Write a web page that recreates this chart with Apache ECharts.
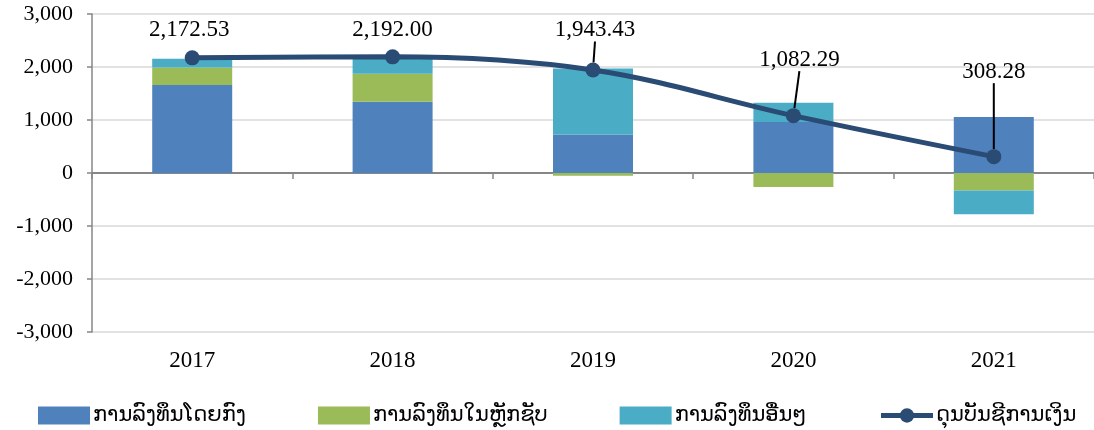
<!DOCTYPE html>
<html>
  <head>
    <meta charset="utf-8" />
    <title>Capital account chart</title>
    <style>
      body { margin: 0; background: #fff; }
    </style>
  </head>
  <body>
    <script src="https://cdn.jsdelivr.net/npm/echarts@6/dist/echarts.min.js"></script>

    <div id="chart" style="width: 1094px; height: 430px"></div>

    <script>
      const years = ['2017', '2018', '2019', '2020', '2021'];
      const direct = [1660, 1345, 725, 960, 1055];
      const portfolio = [330, 530, -50, -265, -330];
      const other = [165, 280, 1245, 366, -450];
      const balance = [2172.53, 2192.0, 1943.43, 1082.29, 308.28];
      const yTicks = [-3000, -2000, -1000, 0, 1000, 2000, 3000];

      const names = [
        'ການລົງທຶນໂດຍກົງ',
        'ການລົງທຶນໃນຫຼັກຊັບ',
        'ການລົງທຶນອື່ນໆ',
        'ດຸນບັນຊີການເງິນ'
      ];

      // label offsets from the point (px)
      const labelDx = [-3, 0, 2, 6, 0];
      const labelDy = [-28, -27, -40, -56, -85];
      const leader = [false, false, true, true, true];

      const serif = "'Liberation Serif', 'Times New Roman', serif";
      const lao = "'DejaVu Sans', 'Noto Sans', sans-serif";
      const navy = '#2a4b74';

      function fmt(v, d) {
        return v.toLocaleString('en-US', {
          minimumFractionDigits: d,
          maximumFractionDigits: d
        });
      }

      let myChart = echarts.init(document.getElementById('chart'), null, {
        width: 1094,
        height: 430
      });

      function barSeries(name, values, color) {
        return {
          name: name,
          type: 'bar',
          stack: 'total',
          barWidth: 80,
          xAxisIndex: 0,
          itemStyle: { color: color },
          data: values
        };
      }

      let opts = {
        animation: false,
        grid: {
          left: 92,
          top: 14,
          right: -5,
          height: 318
        },
        legend: {
          left: 33,
          top: 400,
          itemWidth: 52,
          itemHeight: 18,
          itemGap: 72,
          textStyle: {
            fontFamily: lao,
            fontSize: 21,
            color: '#000',
            padding: [0, 0, 0, -2]
          },
          data: [
            { name: names[0], icon: 'rect' },
            { name: names[1], icon: 'rect' },
            { name: names[2], icon: 'rect' },
            {
              name: names[3],
              itemStyle: { color: navy },
              lineStyle: { width: 5, color: navy }
            }
          ]
        },
        xAxis: [
          {
            type: 'category',
            data: years,
            axisLine: {
              onZero: true,
              lineStyle: { color: '#868686', width: 2 }
            },
            axisTick: {
              show: true,
              length: 6,
              lineStyle: { color: '#868686', width: 1.5 }
            },
            axisLabel: { show: false }
          },
          {
            type: 'category',
            data: years,
            position: 'bottom',
            axisLine: { show: false, onZero: false },
            axisTick: { show: false },
            axisLabel: {
              margin: 17,
              fontFamily: serif,
              fontSize: 23,
              color: '#000'
            }
          }
        ],
        yAxis: {
          type: 'value',
          min: yTicks[0],
          max: yTicks[yTicks.length - 1],
          interval: 1000,
          axisLine: {
            show: true,
            lineStyle: { color: '#868686', width: 1.5 }
          },
          axisTick: {
            show: true,
            length: 5,
            lineStyle: { color: '#868686', width: 1.5 }
          },
          splitLine: {
            lineStyle: { color: '#d9d9d9', width: 1.5 }
          },
          axisLabel: {
            margin: 19,
            fontFamily: serif,
            fontSize: 22,
            color: '#000',
            formatter: (v) => fmt(v, 0)
          }
        },
        series: [
          barSeries(names[0], direct, '#4f81bd'),
          barSeries(names[1], portfolio, '#9bbb59'),
          barSeries(names[2], other, '#4bacc6'),
          {
            name: names[3],
            type: 'line',
            xAxisIndex: 0,
            smooth: 0.35,
            symbol: 'circle',
            symbolSize: 15,
            z: 5,
            lineStyle: { width: 5, color: navy },
            itemStyle: { color: navy },
            label: {
              show: true,
              position: 'inside',
              fontFamily: serif,
              fontSize: 23,
              color: '#000',
              formatter: (p) => fmt(p.value, 2)
            },
            labelLine: {
              show: true,
              lineStyle: { color: '#000', width: 2 }
            },
            labelLayout: (p) => ({
              dx: labelDx[p.dataIndex],
              dy: labelDy[p.dataIndex]
            }),
            data: balance.map((v, i) => ({
              value: v,
              labelLine: { show: leader[i] }
            }))
          }
        ]
      };

      myChart.setOption(opts, { notMerge: true });
    </script>
  </body>
</html>
